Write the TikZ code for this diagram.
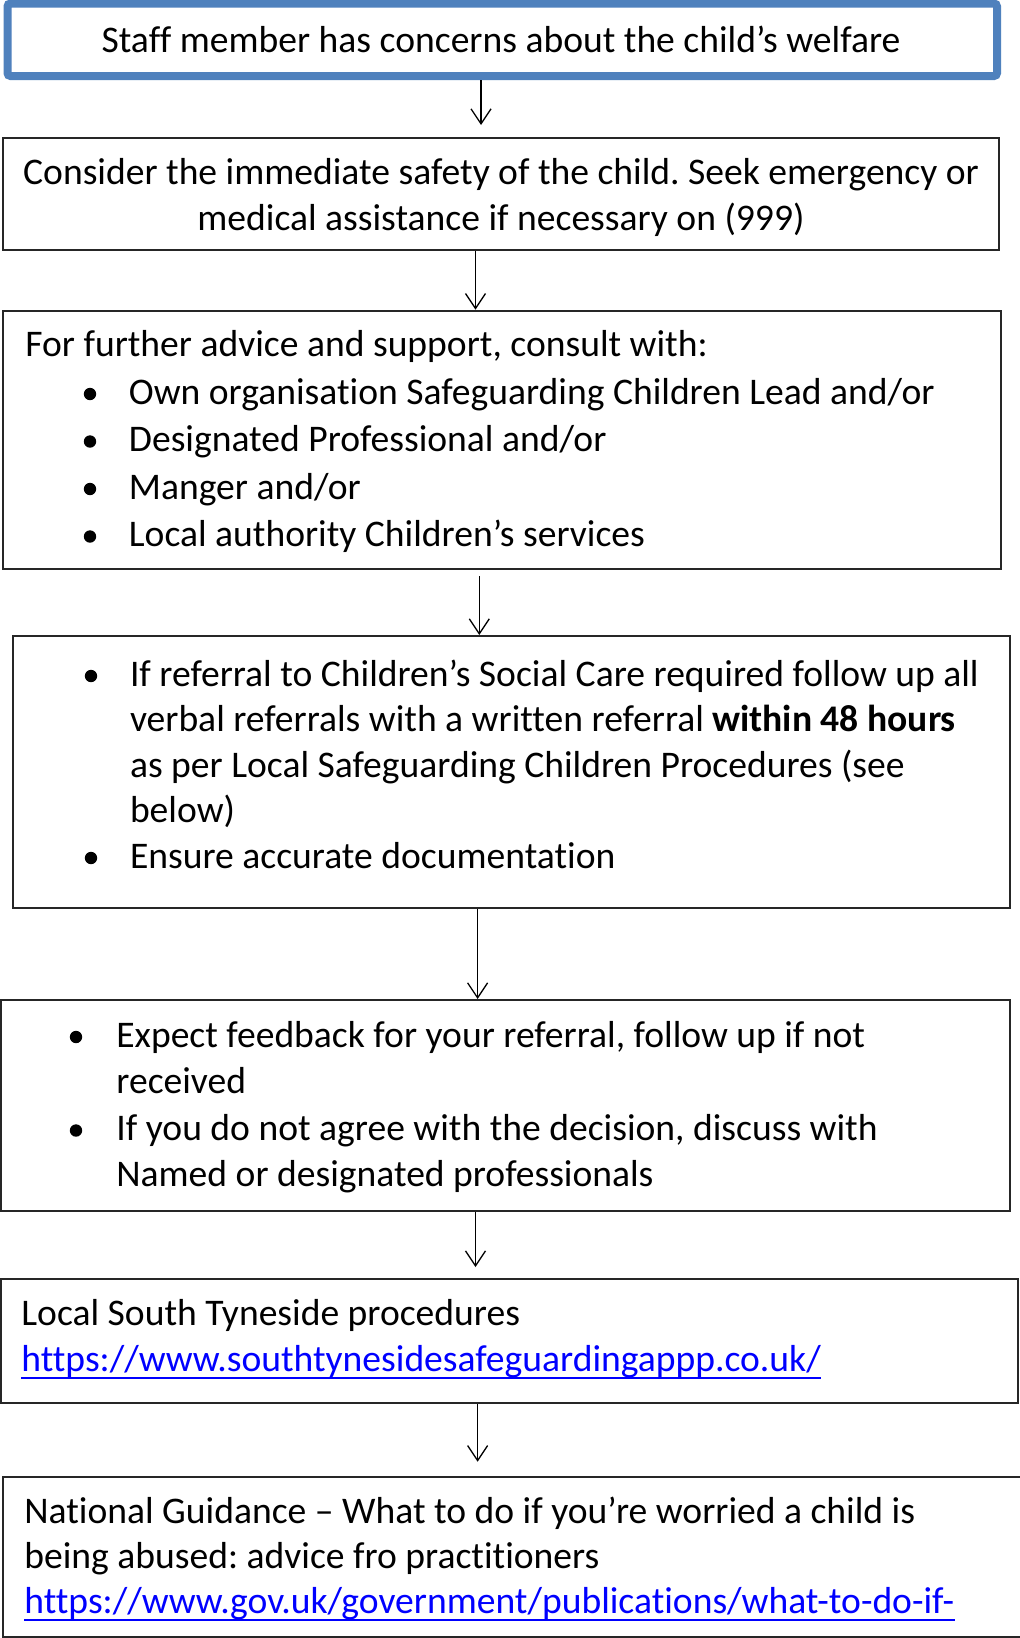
\documentclass[tikz,border=0pt]{standalone}
\usepackage{fontspec}
\setmainfont{Carlito}[Ligatures=NoCommon]
\usetikzlibrary{arrows.meta,fit}
\definecolor{bluebox}{RGB}{79,129,189}
\definecolor{linkblue}{RGB}{0,0,255}
\newcommand{\bodyfont}{\fontsize{18.8pt}{23pt}\selectfont\frenchspacing}
\tikzset{
 box/.style={draw=black!85, line width=1pt, inner sep=0pt},
 topbox/.style={draw=bluebox, line width=4pt, rounded corners=1.5pt, inner sep=0pt},
 txt/.style={anchor=base west, inner sep=0pt, font=\bodyfont},
 ctxt/.style={anchor=base, inner sep=0pt, font=\bodyfont},
 link/.style={txt, text=linkblue},
 bul/.style={circle, fill=black, inner sep=0pt, minimum size=6.2pt},
 arr/.style={-{Straight Barb[length=7.5pt,width=10pt]}, line width=0.65pt},
 uline/.style={draw=linkblue, line width=1pt},
}
\begin{document}
\begin{tikzpicture}[x=0.5pt,y=-0.5pt]
\useasboundingbox (0,0) rectangle (1020,1638);
\clip (0,0) rectangle (1020,1638);
\fill[white] (0,0) rectangle (1020,1638);

% Box 1
\node[topbox, fit={(7.5,3.5) (997,76)}] (b1) {};
\node[ctxt] (t1) at (501,52) {Staff member has concerns about the child’s welfare};

% Box 2
\node[box, fit={(3,138) (999,250)}] (b2) {};
\node[ctxt] (t2a) at (501,184) {Consider the immediate safety of the child. Seek emergency or};
\node[ctxt] (t2b) at (501,230) {medical assistance if necessary on (999)};

% Box 3
\node[box, fit={(3,310.7) (1001,569.3)}] (b3) {};
\node[txt] (t3a) at (25,356) {For further advice and support, consult with:};
\node[bul] (p3b) at (90,394) {};
\node[txt] (t3b) at (128.5,404) {Own organisation Safeguarding Children Lead and/or};
\node[bul] (p3c) at (90,441.5) {};
\node[txt] (t3c) at (128.5,451.5) {Designated Professional and/or};
\node[bul] (p3d) at (90,489) {};
\node[txt] (t3d) at (128.5,499) {Manger and/or};
\node[bul] (p3e) at (90,536.5) {};
\node[txt] (t3e) at (128.5,546.5) {Local authority Children’s services};

% Box 4
\node[box, fit={(12.5,636) (1009.5,908)}] (b4) {};
\node[bul] (p4a) at (91,676) {};
\node[txt] (t4a) at (129.6,686) {If referral to Children’s Social Care required follow up all};
\node[txt] (t4b) at (129.6,731) {verbal referrals with a written referral \textbf{within 48 hours}};
\node[txt] (t4c) at (129.6,777) {as per Local Safeguarding Children Procedures (see};
\node[txt] (t4d) at (129.6,822) {below)};
\node[bul] (p4e) at (91,858) {};
\node[txt] (t4e) at (129.6,868) {Ensure accurate documentation};

% Box 5
\node[box, fit={(0.8,1000) (1009.5,1211)}] (b5) {};
\node[bul] (p5a) at (76,1037) {};
\node[txt] (t5a) at (116,1047) {Expect feedback for your referral, follow up if not};
\node[txt] (t5b) at (116,1093) {received};
\node[bul] (p5c) at (76,1130.5) {};
\node[txt] (t5c) at (116,1140.5) {If you do not agree with the decision, discuss with};
\node[txt] (t5d) at (116,1186.5) {Named or designated professionals};

% Box 6
\node[box, fit={(0.8,1279) (1018.3,1403)}] (b6) {};
\node[txt] (t6a) at (21,1325) {Local South Tyneside procedures};
\node[link] (t6b) at (21,1371) {https://www.southtynesidesafeguardingappp.co.uk/};
\draw[uline] ([yshift=-3.5pt]t6b.base west) -- ([yshift=-3.5pt]t6b.base east);

% Box 7
\node[box, fit={(3.3,1476.7) (1040,1637)}] (b7) {};
\node[txt] (t7a) at (24,1523) {National Guidance – What to do if you’re worried a child is};
\node[txt] (t7b) at (24,1568) {being abused: advice fro practitioners};
\node[link] (t7c) at (24,1613) {https://www.gov.uk/government/publications/what-to-do-if-};
\draw[uline] ([yshift=-3.5pt]t7c.base west) -- ([yshift=-3.5pt]t7c.base east);

% Arrows
\coordinate (a1) at (481,0);
\coordinate (a2) at (475.5,0);
\coordinate (a3) at (479.3,0);
\coordinate (a4) at (477.6,0);
\coordinate (a5) at (475.5,0);
\coordinate (a6) at (477.6,0);
\draw[arr, shorten >=6pt] (a1 |- b1.south) -- (a1 |- b2.north);
\draw[arr] (a2 |- b2.south) -- (a2 |- b3.north);
\draw[arr, shorten <=3pt] (a3 |- b3.south) -- (a3 |- b4.north);
\draw[arr] (a4 |- b4.south) -- (a4 |- b5.north);
\draw[arr, shorten >=5.5pt] (a5 |- b5.south) -- (a5 |- b6.north);
\draw[arr, shorten >=7pt] (a6 |- b6.south) -- (a6 |- b7.north);
\end{tikzpicture}
\end{document}
